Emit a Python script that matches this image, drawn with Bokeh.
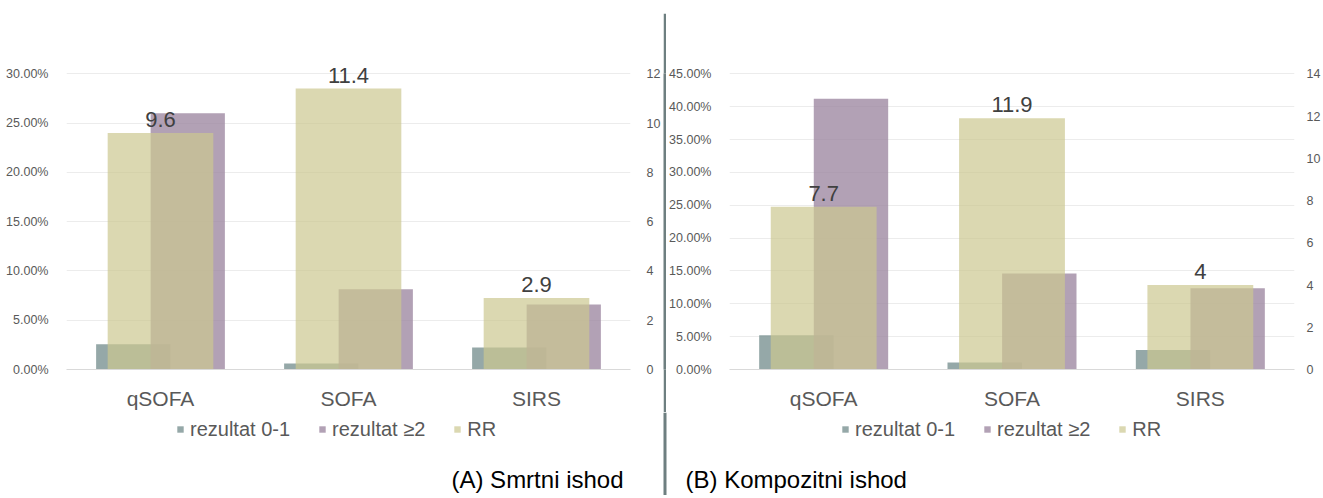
from bokeh.plotting import figure
from bokeh.models import (FactorRange, Range1d, LinearAxis, FixedTicker, NumeralTickFormatter,
                          Legend, LegendItem, Label, Span, ColumnDataSource)
from bokeh.transform import dodge
from bokeh.layouts import row, column
from bokeh.core.properties import value
from bokeh.embed import file_html
from bokeh.resources import INLINE

# ---------------- data ----------------
categories = ["qSOFA", "SOFA", "SIRS"]
series_names = ["rezultat 0-1", "rezultat \u22652", "RR"]

# (A) Smrtni ishod
a_low = [0.0256, 0.0060, 0.0223]
a_high = [0.2600, 0.0814, 0.0660]
a_rr = [9.6, 11.4, 2.9]
a_pct_ticks = [0, 0.05, 0.10, 0.15, 0.20, 0.25, 0.30]
a_rr_ticks = [0, 2, 4, 6, 8, 10, 12]

# (B) Kompozitni ishod
b_low = [0.0520, 0.0106, 0.0298]
b_high = [0.4120, 0.1460, 0.1235]
b_rr = [7.7, 11.9, 4.0]
b_pct_ticks = [0, 0.05, 0.10, 0.15, 0.20, 0.25, 0.30, 0.35, 0.40, 0.45]
b_rr_ticks = [0, 2, 4, 6, 8, 10, 12, 14]

titles = ["(A) Smrtni ishod", "(B) Kompozitni ishod"]

# ---------------- style ----------------
FONT = "Liberation Sans"
C_LOW = "#7b9292"
C_HIGH = "#9f89a2"
C_RR = "#ccc790"
A_LOW, A_HIGH, A_RR = 0.8, 0.8, 0.7
TICK_COL = "#595959"
GRID_COL = "#ececec"
DIV_COL = "#6e7f80"

W_LEFT, W_DIV, W_RIGHT = 663, 3, 657
MAIN_H = 412
FOOT_H = 83


def make_chart(low, high, rr, pct_ticks, rr_ticks, width, b_left, b_right, rstand):
    head = 1.045
    p = figure(x_range=FactorRange(*categories),
               y_range=Range1d(0, pct_ticks[-1] * head),
               width=width, height=MAIN_H, output_backend="svg",
               toolbar_location=None, outline_line_color=None,
               min_border_top=60, min_border_bottom=43,
               min_border_left=b_left, min_border_right=b_right)
    p.extra_y_ranges = {"rr": Range1d(0, rr_ticks[-1] * head)}
    src = ColumnDataSource(dict(cat=categories, low=low, high=high, rr=rr,
                                lab=[f"{v:g}" for v in rr]))
    p.vbar(x=dodge("cat", -0.145, range=p.x_range), top="low", width=0.395,
           source=src, fill_color=C_LOW, fill_alpha=A_LOW, line_color=None)
    p.vbar(x=dodge("cat", 0.145, range=p.x_range), top="high", width=0.395,
           source=src, fill_color=C_HIGH, fill_alpha=A_HIGH, line_color=None)
    p.vbar(x="cat", top="rr", width=0.562, y_range_name="rr",
           source=src, fill_color=C_RR, fill_alpha=A_RR, line_color=None)
    p.text(x="cat", y="rr", text="lab", y_range_name="rr", source=src,
           text_align="center", text_baseline="bottom", y_offset=-6,
           text_font=value(FONT), text_font_size="22px", text_color="#404040")

    ya = p.yaxis[0]
    ya.ticker = FixedTicker(ticks=pct_ticks)
    ya.formatter = NumeralTickFormatter(format="0.00%")
    ya.axis_line_color = None
    ya.major_tick_line_color = None
    ya.minor_tick_line_color = None
    ya.major_label_text_font = FONT
    ya.major_label_text_font_size = "12.5px"
    ya.major_label_text_color = TICK_COL
    ya.major_label_standoff = 12
    p.ygrid.grid_line_color = GRID_COL
    p.xgrid.grid_line_color = None

    ra = LinearAxis(y_range_name="rr", ticker=FixedTicker(ticks=rr_ticks))
    ra.axis_line_color = None
    ra.major_tick_line_color = None
    ra.minor_tick_line_color = None
    ra.major_label_text_font = FONT
    ra.major_label_text_font_size = "12.5px"
    ra.major_label_text_color = TICK_COL
    ra.major_label_standoff = rstand
    p.add_layout(ra, "right")

    xa = p.xaxis[0]
    xa.axis_line_color = "#d9d9d9"
    xa.axis_line_width = 1
    xa.major_tick_line_color = None
    xa.minor_tick_line_color = None
    xa.major_label_text_font = FONT
    xa.major_label_text_font_size = "21px"
    xa.major_label_text_color = TICK_COL
    xa.major_label_standoff = 11
    return p


left = make_chart(a_low, a_high, a_rr, a_pct_ticks, a_rr_ticks, W_LEFT, 66, 33, 10)
right = make_chart(b_low, b_high, b_rr, b_pct_ticks, b_rr_ticks, W_RIGHT, 61, 26, 6)

divider = figure(width=W_DIV, height=MAIN_H - 13, output_backend="svg",
                 toolbar_location=None, min_border=0, outline_line_color=None,
                 margin=(13, 0, 0, 0), x_axis_type=None, y_axis_type=None,
                 background_fill_color=DIV_COL, border_fill_color=DIV_COL,
                 x_range=Range1d(0, 1), y_range=Range1d(0, 1))
divider.grid.visible = False

# footer: legends, panel captions and the continuation of the divider
TOTAL_W = W_LEFT + W_DIV + W_RIGHT
foot = figure(width=TOTAL_W, height=FOOT_H, output_backend="svg", toolbar_location=None,
              min_border=0, outline_line_color=None, x_axis_type=None, y_axis_type=None,
              x_range=Range1d(0, TOTAL_W), y_range=Range1d(0, FOOT_H))
foot.grid.visible = False
foot.add_layout(Span(location=W_LEFT + W_DIV / 2, dimension="height",
                     line_color=DIV_COL, line_width=W_DIV))

proxy = ColumnDataSource(dict(x=[0], top=[0]))
legend_x = [176, 841]
caption_x = [623, 685]
caption_align = ["right", "left"]
for i in range(2):
    k1 = foot.vbar(x="x", top="top", width=0, source=proxy,
                   fill_color=C_LOW, fill_alpha=A_LOW, line_color=None)
    k2 = foot.vbar(x="x", top="top", width=0, source=proxy,
                   fill_color=C_HIGH, fill_alpha=A_HIGH, line_color=None)
    k3 = foot.vbar(x="x", top="top", width=0, source=proxy,
                   fill_color=C_RR, fill_alpha=A_RR, line_color=None)
    legend = Legend(items=[LegendItem(label=series_names[0], renderers=[k1]),
                           LegendItem(label=series_names[1], renderers=[k2]),
                           LegendItem(label=series_names[2], renderers=[k3])],
                    orientation="horizontal", location=(legend_x[i], 54),
                    glyph_width=8, glyph_height=8, label_standoff=6, spacing=28,
                    border_line_color=None, background_fill_alpha=0,
                    margin=0, padding=0, label_height=24,
                    label_text_font=FONT, label_text_font_size="20px",
                    label_text_color=TICK_COL)
    foot.add_layout(legend, "center")
    foot.add_layout(Label(x=caption_x[i], y=16, text=titles[i],
                          text_align=caption_align[i], text_baseline="alphabetic",
                          text_font=FONT, text_font_size="24px",
                          text_color="#000000"))

layout = column(row(left, divider, right), foot)

open("out.html", "w").write(file_html(layout, INLINE))
